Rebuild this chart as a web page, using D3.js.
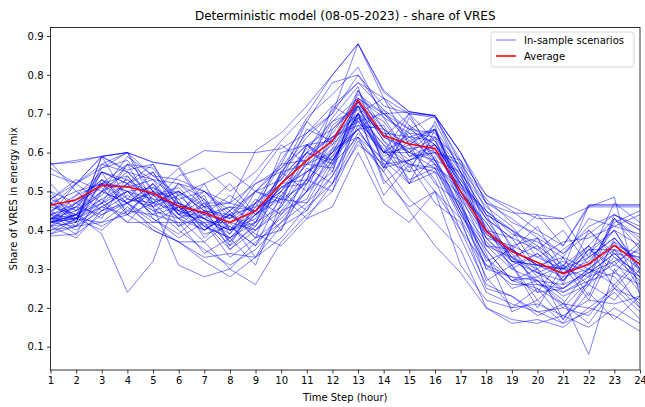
<!DOCTYPE html>
<html>
<head>
<meta charset="utf-8">
<script src="https://cdn.jsdelivr.net/npm/d3@7"></script>
<style>
  html, body { margin: 0; padding: 0; background: #fff; }
  svg { display: block; font-family: "DejaVu Sans", sans-serif; }
</style>
</head>
<body>
<svg id="chart" width="645" height="407"></svg>
<script>
// Time steps (hours of the day)
const hours = d3.range(1, 25);
const yTicks = [0.1, 0.2, 0.3, 0.4, 0.5, 0.6, 0.7, 0.8, 0.9];

// Average share of VRES across the in-sample scenarios
const average = [0.465, 0.478, 0.515, 0.512, 0.495, 0.462, 0.445, 0.42, 0.45, 0.52, 0.58, 0.63,
                 0.735, 0.643, 0.622, 0.61, 0.50, 0.397, 0.345, 0.317, 0.288, 0.313, 0.361, 0.312];

// In-sample scenarios: share of VRES in the energy mix per hour
const scenarios = [
  [.57,.575,.59,.60,.575,.565,.47,.47,.605,.65,.72,.80,.88,.76,.705,.695,.60,.49,.46,.43,.43,.46,.485,.23],
  [.57,.58,.59,.60,.575,.565,.605,.60,.60,.61,.65,.70,.88,.755,.705,.695,.60,.47,.445,.44,.36,.465,.465,.465],
  [.545,.52,.59,.555,.57,.45,.42,.42,.47,.52,.60,.71,.78,.74,.70,.695,.55,.36,.35,.31,.30,.465,.465,.465],
  [.43,.44,.39,.24,.32,.50,.45,.44,.50,.56,.62,.66,.72,.64,.61,.62,.52,.38,.32,.31,.28,.30,.35,.33],
  [.42,.43,.47,.42,.42,.42,.42,.35,.42,.46,.55,.60,.70,.58,.55,.57,.45,.33,.27,.25,.21,.20,.25,.22],
  [.47,.43,.52,.50,.46,.40,.35,.31,.35,.42,.50,.58,.69,.60,.64,.63,.50,.40,.33,.30,.17,.27,.43,.38],
  [.385,.39,.44,.48,.46,.31,.28,.30,.26,.37,.44,.50,.63,.55,.45,.36,.29,.20,.16,.17,.15,.20,.18,.14],
  [.44,.43,.50,.59,.54,.53,.50,.47,.45,.54,.68,.78,.80,.70,.66,.65,.55,.44,.40,.35,.30,.35,.40,.36],
  [.50,.42,.59,.48,.55,.44,.52,.40,.48,.44,.53,.72,.68,.60,.70,.58,.48,.30,.36,.24,.33,.23,.38,.30],
  [.52,.45,.56,.60,.50,.56,.46,.52,.44,.60,.62,.55,.76,.66,.52,.66,.56,.47,.35,.41,.30,.28,.44,.40],
  [.41,.47,.43,.54,.47,.41,.47,.39,.50,.48,.62,.58,.66,.71,.62,.52,.47,.27,.31,.22,.28,.36,.25,.32],
  [.45,.49,.55,.44,.51,.47,.40,.45,.38,.55,.50,.66,.73,.63,.55,.68,.55,.44,.32,.38,.26,.40,.33,.27],
  [.46,.52,.47,.57,.46,.52,.48,.37,.46,.57,.58,.69,.77,.56,.69,.60,.58,.40,.38,.29,.25,.30,.43,.35],
  [.40,.43,.48,.42,.49,.43,.37,.42,.33,.45,.48,.61,.64,.49,.57,.47,.42,.28,.20,.25,.17,.26,.22,.30],
  [.43,.39,.50,.47,.43,.38,.42,.33,.38,.40,.56,.52,.70,.65,.60,.64,.46,.37,.31,.20,.31,.22,.35,.25],
  [.48,.53,.50,.53,.49,.50,.45,.43,.50,.47,.62,.63,.72,.68,.59,.62,.53,.43,.38,.35,.40,.31,.42,.45],
  [.575,.50,.45,.52,.55,.46,.41,.44,.41,.52,.53,.67,.72,.60,.65,.57,.50,.41,.30,.34,.27,.35,.31,.37],
  [.42,.41,.53,.47,.50,.44,.48,.40,.44,.49,.57,.56,.74,.66,.62,.66,.47,.32,.35,.28,.31,.26,.37,.26],
  [.43,.42,.59,.55,.49,.51,.44,.46,.42,.54,.60,.64,.68,.70,.64,.58,.55,.46,.41,.33,.37,.38,.41,.39],
  [.39,.41,.42,.47,.40,.37,.37,.30,.37,.42,.47,.54,.65,.58,.52,.55,.40,.26,.23,.19,.20,.18,.26,.20],
  [.47,.50,.52,.51,.53,.44,.43,.46,.45,.50,.60,.58,.70,.52,.58,.62,.49,.42,.33,.36,.27,.33,.38,.31],
  [.44,.52,.56,.58,.50,.48,.50,.43,.52,.56,.65,.72,.78,.71,.66,.695,.57,.48,.42,.39,.34,.41,.44,.40],
  [.41,.44,.47,.50,.44,.46,.41,.38,.44,.51,.52,.63,.70,.62,.57,.56,.44,.35,.27,.28,.23,.26,.32,.24],
  [.42,.44,.52,.45,.44,.52,.50,.44,.40,.46,.58,.65,.74,.69,.59,.60,.57,.36,.33,.27,.22,.08,.30,.20],
  [.43,.43,.40,.46,.41,.37,.33,.34,.33,.41,.45,.54,.67,.60,.61,.53,.38,.24,.21,.19,.16,.19,.24,.17],
  [.50,.47,.51,.44,.52,.45,.50,.45,.53,.62,.57,.68,.74,.70,.63,.66,.52,.45,.36,.38,.29,.32,.40,.30],
  [.44,.40,.46,.50,.44,.42,.34,.38,.31,.47,.53,.50,.69,.62,.53,.56,.43,.25,.23,.18,.21,.16,.25,.19],
  [.46,.44,.55,.52,.57,.47,.40,.45,.50,.53,.66,.63,.76,.64,.70,.63,.53,.44,.40,.30,.35,.40,.34,.33],
  [.42,.46,.44,.47,.42,.46,.39,.41,.36,.44,.50,.59,.66,.56,.58,.50,.43,.31,.26,.26,.24,.27,.33,.29],
  [.48,.45,.50,.55,.48,.43,.47,.40,.43,.55,.62,.57,.73,.64,.60,.66,.50,.38,.36,.33,.30,.36,.29,.36],
  [.41,.38,.45,.47,.52,.44,.46,.35,.40,.48,.47,.58,.68,.61,.52,.59,.45,.30,.28,.27,.21,.30,.28,.21],
  [.39,.43,.42,.44,.40,.37,.32,.28,.33,.38,.46,.52,.62,.57,.48,.42,.35,.20,.17,.16,.18,.15,.20,.16],
  [.45,.48,.53,.48,.47,.50,.46,.43,.47,.53,.61,.68,.71,.65,.64,.66,.51,.45,.39,.37,.33,.43,.41,.44],
  [.42,.44,.48,.52,.45,.47,.44,.38,.45,.50,.57,.62,.69,.59,.62,.57,.44,.33,.25,.27,.20,.27,.29,.26],
  [.47,.42,.46,.50,.51,.44,.40,.44,.46,.48,.59,.64,.67,.66,.60,.56,.52,.40,.32,.29,.27,.35,.35,.30],
  [.43,.47,.52,.54,.46,.49,.43,.40,.45,.51,.55,.61,.73,.63,.58,.61,.49,.39,.35,.31,.29,.31,.37,.32],
  [.49,.43,.55,.52,.49,.46,.43,.40,.42,.55,.57,.60,.72,.57,.58,.60,.50,.42,.32,.31,.30,.33,.38,.31],
  [.44,.46,.52,.47,.50,.43,.45,.37,.44,.48,.52,.64,.70,.60,.60,.58,.45,.36,.30,.27,.26,.29,.34,.28],
  [.43,.45,.49,.57,.53,.48,.38,.44,.39,.36,.43,.46,.60,.47,.42,.50,.40,.31,.28,.24,.25,.30,.26,.33],
  [.41,.42,.57,.60,.47,.54,.56,.50,.55,.63,.70,.80,.88,.74,.67,.62,.52,.43,.38,.44,.43,.33,.47,.42],
  [.42,.44,.41,.45,.50,.45,.49,.36,.47,.40,.52,.60,.66,.67,.56,.64,.58,.49,.45,.40,.36,.46,.46,.46],
  [.45,.41,.47,.52,.43,.39,.45,.41,.36,.49,.43,.52,.64,.55,.67,.58,.46,.34,.19,.22,.16,.24,.17,.23],
  [.56,.52,.59,.60,.54,.49,.52,.55,.50,.57,.69,.75,.82,.69,.65,.64,.54,.43,.33,.29,.32,.29,.34,.28],
  [.42,.49,.52,.57,.56,.47,.44,.49,.44,.51,.55,.59,.70,.53,.46,.50,.31,.22,.20,.21,.18,.22,.21,.23],
  [.44,.47,.53,.50,.48,.47,.43,.39,.47,.58,.68,.62,.75,.70,.705,.695,.60,.47,.43,.38,.34,.39,.44,.41],
  [.47,.44,.50,.47,.52,.41,.44,.42,.40,.45,.53,.60,.66,.56,.66,.62,.54,.40,.35,.31,.33,.30,.36,.34],
  [.43,.46,.55,.53,.47,.50,.41,.38,.42,.52,.60,.57,.70,.74,.62,.67,.48,.38,.31,.34,.29,.34,.40,.29],
  [.40,.41,.45,.49,.45,.43,.40,.44,.38,.43,.50,.55,.72,.60,.57,.55,.49,.35,.27,.30,.24,.28,.31,.28],
  [.48,.52,.57,.55,.53,.52,.46,.47,.52,.55,.64,.70,.80,.72,.70,.69,.58,.45,.40,.36,.31,.36,.43,.37],
  [.42,.43,.46,.44,.47,.45,.43,.36,.41,.50,.45,.57,.64,.58,.63,.60,.51,.39,.34,.26,.25,.29,.32,.35]
];

const svg = d3.select("#chart");
const margin = { left: 50.5, right: 5, top: 27.5, bottom: 37 };
const W = 645, H = 407;

const x = d3.scaleLinear().domain([1, 24]).range([margin.left, W - margin.right]);
const y = d3.scaleLinear().domain([0.040, 0.922]).range([H - margin.bottom, margin.top]);

const line = d3.line().x((d, i) => x(hours[i])).y(d => y(d));

// Plot area clip
svg.append("defs").append("clipPath").attr("id", "plotClip")
  .append("rect")
  .attr("x", margin.left).attr("y", margin.top)
  .attr("width", x(24) - margin.left).attr("height", y(0.040) - margin.top);

const plot = svg.append("g").attr("clip-path", "url(#plotClip)");

// Scenario lines
plot.selectAll("path.scen")
  .data(scenarios)
  .join("path")
  .attr("class", "scen")
  .attr("d", line)
  .attr("fill", "none")
  .attr("stroke", "#0000ff")
  .attr("stroke-opacity", 0.5)
  .attr("stroke-width", 1)
  .attr("stroke-linejoin", "round");

// Average line
plot.append("path")
  .datum(average)
  .attr("d", line)
  .attr("fill", "none")
  .attr("stroke", "#ff0000")
  .attr("stroke-width", 1.6)
  .attr("stroke-linejoin", "round");

// Axes
const xAxis = d3.axisBottom(x).tickValues(hours).tickFormat(d3.format("d")).tickSize(3.5).tickPadding(3);
const yAxis = d3.axisLeft(y).tickValues(yTicks).tickFormat(d3.format(".1f")).tickSize(3.5).tickPadding(3.5);

const gx = svg.append("g").attr("transform", `translate(0,${y(0.040)})`).call(xAxis);
const gy = svg.append("g").attr("transform", `translate(${margin.left},0)`).call(yAxis);
[gx, gy].forEach(g => {
  g.select(".domain").remove();
  g.selectAll(".tick line").attr("stroke", "#000").attr("stroke-width", 0.8);
  g.selectAll(".tick text").attr("fill", "#000").attr("font-size", 10).attr("font-family", "DejaVu Sans, sans-serif");
});

// Frame
svg.append("rect")
  .attr("x", margin.left).attr("y", margin.top)
  .attr("width", x(24) - margin.left).attr("height", y(0.040) - margin.top)
  .attr("fill", "none").attr("stroke", "#000").attr("stroke-width", 0.8);

// Title and axis labels
svg.append("text")
  .attr("x", (margin.left + x(24)) / 2).attr("y", 20)
  .attr("text-anchor", "middle").attr("font-size", 12).attr("fill", "#000")
  .text("Deterministic model (08-05-2023) - share of VRES");

svg.append("text")
  .attr("x", (margin.left + x(24)) / 2).attr("y", 401)
  .attr("text-anchor", "middle").attr("font-size", 10).attr("fill", "#000")
  .text("Time Step (hour)");

svg.append("text")
  .attr("transform", `translate(17,${(margin.top + y(0.040)) / 2}) rotate(-90)`)
  .attr("text-anchor", "middle").attr("font-size", 10).attr("fill", "#000")
  .text("Share of VRES in energy mix");

// Legend
const legend = svg.append("g").attr("transform", "translate(491,32)");
legend.append("rect")
  .attr("width", 143).attr("height", 35).attr("rx", 2.5)
  .attr("fill", "#fff").attr("fill-opacity", 0.8)
  .attr("stroke", "#cccccc").attr("stroke-width", 0.8);
const items = [
  { label: "In-sample scenarios", color: "#0000ff", opacity: 0.55, width: 1 },
  { label: "Average", color: "#ff0000", opacity: 1, width: 1.6 }
];
items.forEach((it, i) => {
  const cy = 8 + i * 16;
  legend.append("line")
    .attr("x1", 5).attr("x2", 25).attr("y1", cy).attr("y2", cy)
    .attr("stroke", it.color).attr("stroke-opacity", it.opacity).attr("stroke-width", it.width);
  legend.append("text")
    .attr("x", 33).attr("y", cy + 3.5)
    .attr("font-size", 10).attr("fill", "#000")
    .text(it.label);
});
</script>
</body>
</html>
